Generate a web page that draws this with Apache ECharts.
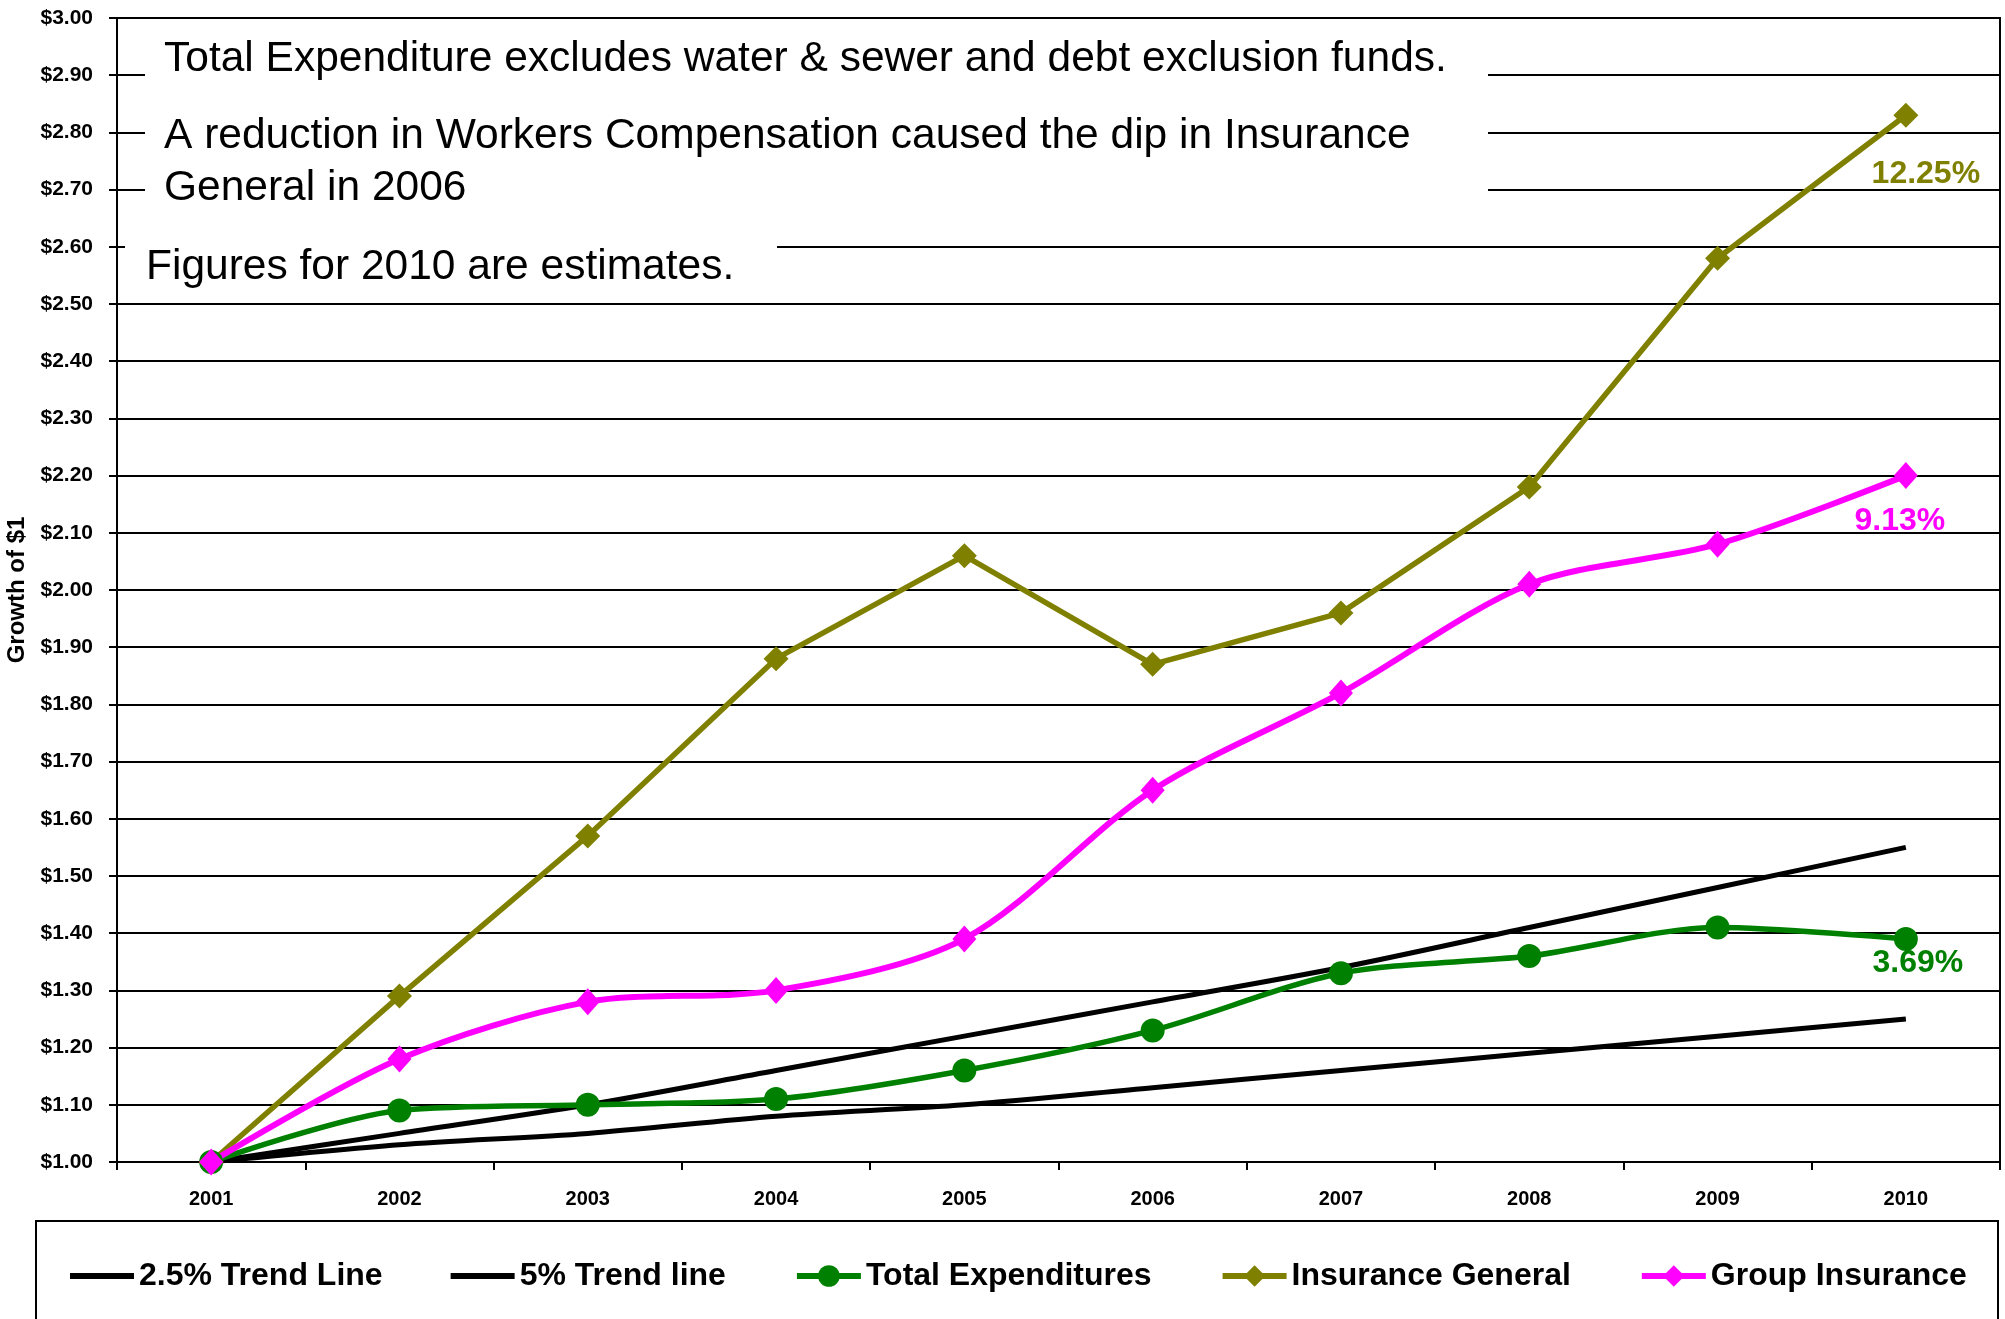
<!DOCTYPE html>
<html>
<head>
<meta charset="utf-8">
<title>Growth of $1</title>
<script src="https://cdn.jsdelivr.net/npm/echarts@6/dist/echarts.min.js"></script>
<style>
  html, body { margin: 0; padding: 0; background: #fff; }
  #chart { width: 2005px; height: 1319px; }
</style>
</head>
<body>
<div id="chart"></div>
<script>
// categories and series values
const years = ['2001', '2002', '2003', '2004', '2005', '2006', '2007', '2008', '2009', '2010'];
const trend25 = [1.00, 1.03, 1.05, 1.08, 1.10, 1.13, 1.16, 1.19, 1.22, 1.25];
const trend5 = [1.00, 1.05, 1.10, 1.16, 1.22, 1.28, 1.34, 1.41, 1.48, 1.55];
const totalExp = [1.00, 1.09, 1.10, 1.11, 1.16, 1.23, 1.33, 1.36, 1.41, 1.39];
const insGeneral = [1.00, 1.29, 1.57, 1.88, 2.06, 1.87, 1.96, 2.18, 2.58, 2.83];
const groupIns = [1.00, 1.18, 1.28, 1.30, 1.39, 1.65, 1.82, 2.01, 2.08, 2.20];
// growth labels shown at the 2010 points
const totalExpRate = '3.69%';
const insGeneralRate = '12.25%';
const groupInsRate = '9.13%';

const FONT = '"Liberation Sans", Arial, sans-serif';
// plain thick bar for the trend line legend keys
const LINE_ICON = 'path://M0,0h64v6h-64z';

// put a label on the last point only
const withEndLabel = (values, text, color, offset) =>
  values.map((v, i) =>
    i === values.length - 1
      ? {
          value: v,
          label: {
            show: true,
            position: 'inside',
            offset: offset,
            formatter: text,
            color: color,
            fontFamily: FONT,
            fontWeight: 'bold',
            fontSize: 32
          }
        }
      : v
  );

const myChart = echarts.init(document.getElementById('chart'));

myChart.setOption({
  animation: false,
  backgroundColor: '#fff',
  grid: {
    left: 117,
    right: 5,
    top: 18,
    bottom: 157,
    outerBoundsMode: 'none',
    show: true,
    borderColor: '#000',
    borderWidth: 2
  },
  legend: {
    left: 70,
    top: 1260,
    padding: 0,
    itemWidth: 64,
    itemHeight: 27,
    itemGap: 68,
    lineStyle: { width: 6 },
    textStyle: {
      fontFamily: FONT,
      fontWeight: 'bold',
      fontSize: 32,
      color: '#000'
    },
    data: [
      { name: '2.5% Trend Line', icon: LINE_ICON },
      { name: '5% Trend line', icon: LINE_ICON },
      'Total Expenditures',
      'Insurance General',
      'Group Insurance'
    ]
  },
  xAxis: {
    type: 'category',
    data: years,
    axisLine: { lineStyle: { color: '#000', width: 2 } },
    axisTick: { show: true, length: 8, lineStyle: { color: '#000', width: 2 } },
    axisLabel: {
      margin: 27,
      color: '#000',
      fontFamily: FONT,
      fontWeight: 'bold',
      fontSize: 20
    },
    splitLine: { show: false }
  },
  yAxis: {
    type: 'value',
    min: 1,
    max: 3,
    interval: 0.1,
    name: 'Growth of $1',
    nameLocation: 'middle',
    nameGap: 80,
    nameTextStyle: {
      fontFamily: FONT,
      fontWeight: 'bold',
      fontSize: 24,
      color: '#000'
    },
    axisLine: { show: true, lineStyle: { color: '#000', width: 2 } },
    axisTick: { show: true, length: 8, lineStyle: { color: '#000', width: 2 } },
    axisLabel: {
      margin: 24,
      color: '#000',
      fontFamily: FONT,
      fontWeight: 'bold',
      fontSize: 21,
      formatter: (v) => '$' + v.toFixed(2)
    },
    splitLine: { show: true, lineStyle: { color: '#000', width: 2 } }
  },
  series: [
    {
      name: '2.5% Trend Line',
      type: 'line',
      data: trend25,
      symbol: 'none',
      smooth: 0.3,
      lineStyle: { color: '#000', width: 5 },
      itemStyle: { color: '#000' }
    },
    {
      name: '5% Trend line',
      type: 'line',
      data: trend5,
      symbol: 'none',
      smooth: 0.3,
      lineStyle: { color: '#000', width: 5 },
      itemStyle: { color: '#000' }
    },
    {
      name: 'Total Expenditures',
      type: 'line',
      data: withEndLabel(totalExp, totalExpRate, '#008000', [12, 24]),
      symbol: 'circle',
      symbolSize: 24,
      smooth: 0.3,
      lineStyle: { color: '#008000', width: 5.5 },
      itemStyle: { color: '#008000' }
    },
    {
      name: 'Insurance General',
      type: 'line',
      data: withEndLabel(insGeneral, insGeneralRate, '#808000', [20, 59]),
      symbol: 'diamond',
      symbolSize: 25,
      lineStyle: { color: '#808000', width: 5.5 },
      itemStyle: { color: '#808000' }
    },
    {
      name: 'Group Insurance',
      type: 'line',
      data: withEndLabel(groupIns, groupInsRate, '#FF00FF', [-6, 46]),
      symbol: 'diamond',
      symbolSize: [24, 27],
      smooth: 0.3,
      lineStyle: { color: '#FF00FF', width: 6 },
      itemStyle: { color: '#FF00FF' }
    }
  ],
  graphic: [
    // white note boxes over the grid lines
    {
      type: 'rect',
      z: 50,
      shape: { x: 145, y: 26, width: 1343, height: 190 },
      style: { fill: '#fff' }
    },
    {
      type: 'rect',
      z: 50,
      shape: { x: 125, y: 222, width: 652, height: 76 },
      style: { fill: '#fff' }
    },
    {
      type: 'text',
      z: 51,
      left: 164,
      top: 38,
      style: {
        text: 'Total Expenditure excludes water & sewer and debt exclusion funds.',
        font: '42.5px ' + FONT,
        fill: '#000'
      }
    },
    {
      type: 'text',
      z: 51,
      left: 164,
      top: 110,
      style: {
        text: 'A reduction in Workers Compensation caused the dip in Insurance\nGeneral in 2006',
        font: '42.5px ' + FONT,
        lineHeight: 52,
        fill: '#000'
      }
    },
    {
      type: 'text',
      z: 51,
      left: 146,
      top: 246,
      style: {
        text: 'Figures for 2010 are estimates.',
        font: '42.5px ' + FONT,
        fill: '#000'
      }
    },
    // legend frame
    {
      type: 'rect',
      z: 0,
      shape: { x: 36, y: 1221, width: 1962, height: 130 },
      style: { fill: 'none', stroke: '#000', lineWidth: 2 }
    }
  ]
});
</script>
</body>
</html>
